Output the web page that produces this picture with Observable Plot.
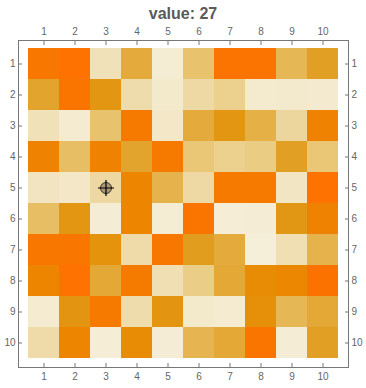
<!DOCTYPE html>
<html><head><meta charset="utf-8">
<script src="https://cdn.jsdelivr.net/npm/d3@7"></script>
<script src="https://cdn.jsdelivr.net/npm/@observablehq/plot@0.6"></script>
<style>
body{margin:0;background:#fff;font-family:"Liberation Sans",Arial,sans-serif}
#title{height:22px;line-height:27px;text-align:center;font-weight:bold;font-size:16px;color:#5a5a5a}
</style></head><body>
<div id="title"></div><div id="chart"></div>
<script>
const cols = [1,2,3,4,5,6,7,8,9,10];
const rows = [1,2,3,4,5,6,7,8,9,10];
const tickLabels = ["1","2","3","4","5","6","7","8","9","10"];
const values = [
  [90,97,20,50, 8,40,95,95,45,58],
  [55,93,65,24,14,26,32,12,13,11],
  [20,10,40,88,16,50,65,48,28,80],
  [80,42,80,55,88,38,32,35,58,38],
  [18,16,27,78,47,26,88,88,17,97],
  [42,65, 7,78, 8,93, 6, 7,64,80],
  [90,92,68,25,90,60,50, 4,22,47],
  [78,97,52,86,22,34,52,72,76,96],
  [10,66,88,24,66,14,10,70,45,52],
  [25,78, 6,72, 7,46,52,94, 7,58]
];
const colorStops = [0,15,27,38,50,62,75,87,100];
const colorRange = ["#f6f0de","#f3e8ca","#edd8a2","#e9c777","#e4ab3c","#e09a18","#ea8800","#f57a00","#ff6f00"];
const marker = {col:3,row:5};

const data = [];
rows.forEach((r,i)=>cols.forEach((c,j)=>data.push({row:r,col:c,value:values[i][j]})));
document.getElementById("title").textContent = "value: " + values[marker.row-1][marker.col-1];

const crosshair = {draw(ctx){const r=8;ctx.moveTo(-r,0);ctx.lineTo(r,0);ctx.moveTo(0,-r);ctx.lineTo(0,r);}};
const axisStyle = {tickSize:-4, stroke:"#777", fill:"#666", fontSize:10, label:null, tickFormat:d=>tickLabels[d-1]};

const chart = Plot.plot({
  width:366, height:366,
  marginLeft:18, marginRight:18, marginTop:18, marginBottom:21,
  style:{fontFamily:"Liberation Sans, Arial, sans-serif", fontSize:"10px", color:"#666"},
  x:{type:"band", domain:cols, padding:0, insetLeft:7, insetRight:7},
  y:{type:"band", domain:rows, padding:0, insetTop:5.5, insetBottom:6},
  color:{type:"linear", domain:colorStops, range:colorRange},
  marks:[
    Plot.cell(data,{x:"col",y:"row",fill:"value",inset:0}),
    Plot.frame({stroke:"#777"}),
    Plot.axisX({...axisStyle, anchor:"top", tickPadding:10}),
    Plot.axisX({...axisStyle, anchor:"bottom", tickPadding:9}),
    Plot.axisY({...axisStyle, anchor:"left", tickPadding:7}),
    Plot.axisY({...axisStyle, anchor:"right", tickPadding:7}),
    Plot.dot([marker],{x:"col",y:"row",r:5.5,fill:"#a08c6c",fillOpacity:0.85,stroke:"#333",strokeWidth:1}),
    Plot.dot([marker],{x:"col",y:"row",symbol:crosshair,stroke:"#000",strokeWidth:1.2,fill:"none"})
  ]
});
document.getElementById("chart").appendChild(chart);
</script></body></html>
